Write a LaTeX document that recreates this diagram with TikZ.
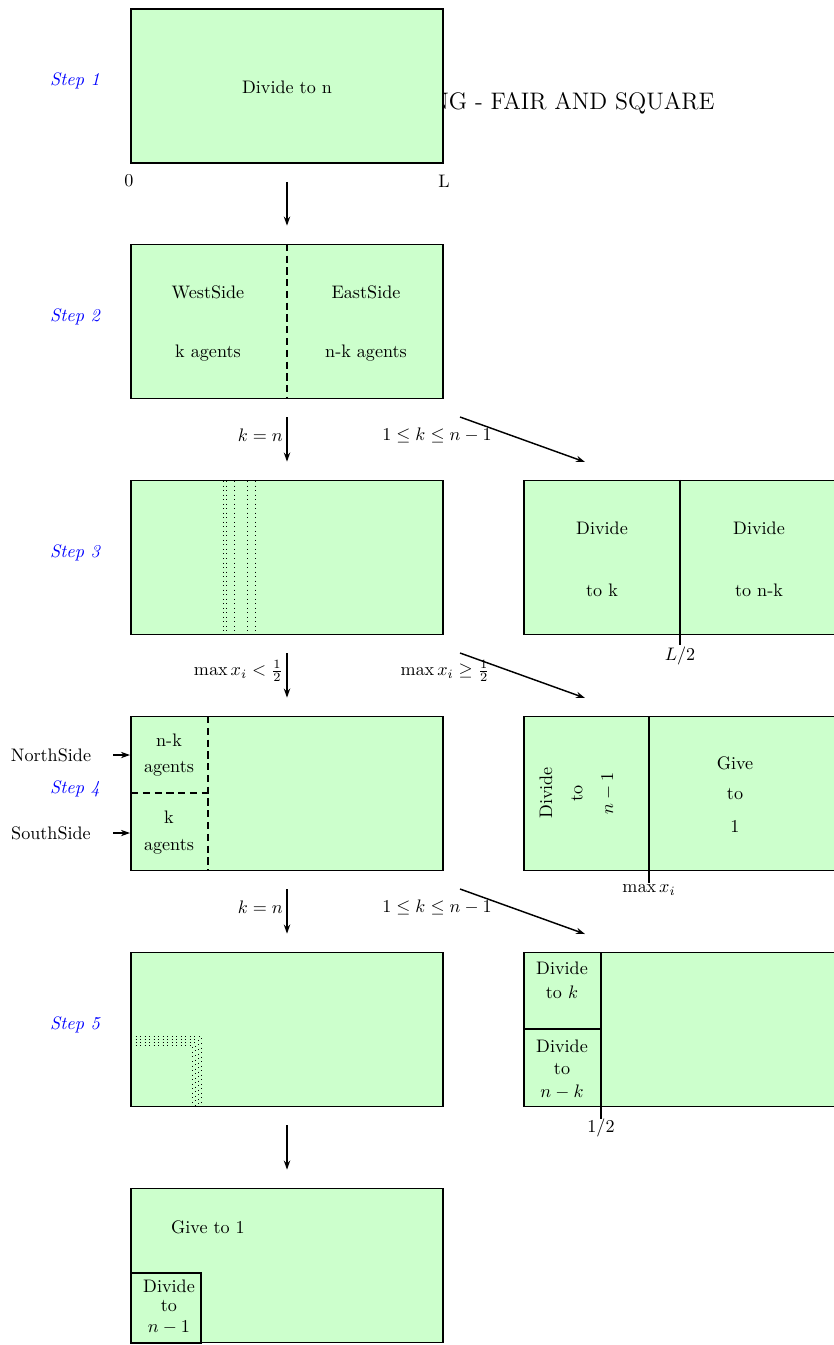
\documentclass[tikz,border=0pt]{standalone}
\usepackage{fix-cm}
\usetikzlibrary{arrows.meta}
\definecolor{cakegreen}{RGB}{204,255,204}
\begin{document}
\begin{tikzpicture}[x=0.552pt,y=-0.552pt,
  box/.style={draw, thick, fill=cakegreen, minimum width=172.2pt, minimum height=85pt, inner sep=0pt},
  steplabel/.style={text=blue, font=\itshape},
  txt/.style={inner sep=0pt},
  arr/.style={-{Stealth[length=5pt,width=3.5pt]}, thick},
  cut/.style={thick},
  dcut/.style={thick, dashed, dash pattern=on 4pt off 2.5pt},
  dots/.style={dotted, line width=0.5pt}]
\useasboundingbox (0,0) rectangle (834,1345);
% title (partly covered)
\node[txt, font=\fontsize{13.2}{16}\selectfont, anchor=west] (title) at (431,103) {NG - FAIR AND SQUARE};
% main boxes
\node[box] (s1) at (287,86) {};
\node[box] (s2) at (287,321.5) {};
\node[box] (s3) at (287,557.5) {};
\node[box] (s4) at (287,793.5) {};
\node[box] (s5) at (287,1029.5) {};
\node[box] (s6) at (287,1265.5) {};
\node[box] (r3) at (680,557.5) {};
\node[box] (r4) at (680,793.5) {};
\node[box] (r5) at (680,1029.5) {};
% step labels
\node[steplabel] (l1) at (75,81) {Step 1};
\node[steplabel] (l2) at (75,317) {Step 2};
\node[steplabel] (l3) at (75,553) {Step 3};
\node[steplabel] (l4) at (75,789) {Step 4};
\node[steplabel] (l5) at (75,1025) {Step 5};
% step 1
\node (t1) at (287,87) {Divide to n};
\node (z0) at (129,181) {0};
\node (zL) at (444,181) {L};
% step 2
\draw[dcut] (s2.north) -- (s2.south);
\node (t2a) at (208,292) {WestSide};
\node (t2b) at (366,292) {EastSide};
\node (t2c) at (208,353) {k agents};
\node (t2d) at (366,353) {n-k agents};
% step 3 left: dotted lines
\foreach \xx in {223.5,226,234.5,247.5,255} \draw[dots] (\xx,481) -- (\xx,634);
% step 3 right
\coordinate (r3tick) at (680,645);
\draw[cut] (r3.north) -- (r3tick);
\node (t3a) at (602,528) {Divide};
\node (t3b) at (602,590) {to k};
\node (t3c) at (759,528) {Divide};
\node (t3d) at (759,590) {to n-k};
\node (t3e) at (680,656) {$L/2$};
% step 4 left
\draw[dcut] (208,716) -- (208,871);
\draw[dcut] (131,793) -- (208,793);
\node (t4a) at (169,740) {n-k};
\node (t4b) at (169,769) {agents};
\node (t4c) at (169,817) {k};
\node (t4d) at (169,847) {agents};
\node (north) at (51,755) {NorthSide};
\node (south) at (51,833) {SouthSide};
\coordinate (nA) at (113,755);
\coordinate (sA) at (113,833);
\coordinate (nB) at (130,755);
\coordinate (sB) at (130,833);
\draw[arr] (nA) -- (nB);
\draw[arr] (sA) -- (sB);
% step 4 right
\coordinate (r4top) at (649,716);
\coordinate (r4tick) at (649,883);
\draw[cut] (r4top) -- (r4tick);
\node[rotate=90] (t4r1) at (546,793) {Divide};
\node[rotate=90] (t4r2) at (577,793) {to};
\node[rotate=90] (t4r3) at (608,793) {$n-1$};
\node (t4g) at (735,763) {Give};
\node (t4h) at (735,794) {to};
\node (t4i) at (735,826) {1};
\node (t4j) at (649,890) {$\max x_i$};
% step 5 left: dotted L
\draw[dots] (131,1036.5) -- (201.5,1036.5) -- (201.5,1107);
\draw[dots] (131,1039.5) -- (198.5,1039.5) -- (198.5,1107);
\draw[dots] (131,1042.5) -- (195.5,1042.5) -- (195.5,1107);
\draw[dots] (131,1045.5) -- (192.5,1045.5) -- (192.5,1107);
% step 5 right
\coordinate (r5top) at (601,952);
\coordinate (r5tick) at (601,1119);
\draw[cut] (r5top) -- (r5tick);
\draw[cut] (524,1029) -- (601,1029);
\node (t5a) at (562,968) {Divide};
\node (t5b) at (562,992) {to $k$};
\node (t5c) at (562,1046) {Divide};
\node (t5d) at (562,1069) {to};
\node (t5e) at (562,1092) {$n-k$};
\node (t5f) at (601,1128) {$1/2$};
% step 6
\node (t6a) at (208,1227) {Give to 1};
\draw[thick] (131,1273) rectangle (201,1343);
\node (t6b) at (169,1286) {Divide};
\node (t6c) at (169,1306) {to};
\node (t6d) at (169,1327) {$n-1$};
% vertical arrows
\draw[arr, shorten <=10pt, shorten >=10pt] (s1.south) -- (s2.north);
\draw[arr, shorten <=10pt, shorten >=10pt] (s2.south) -- (s3.north);
\draw[arr, shorten <=10pt, shorten >=10pt] (s3.south) -- (s4.north);
\draw[arr, shorten <=10pt, shorten >=10pt] (s4.south) -- (s5.north);
\draw[arr, shorten <=10pt, shorten >=10pt] (s5.south) -- (s6.north);
% diagonal arrows
\coordinate (d2a) at (460,417); \coordinate (d2b) at (585,462);
\coordinate (d3a) at (460,653); \coordinate (d3b) at (585,698);
\coordinate (d4a) at (460,889); \coordinate (d4b) at (585,934);
\draw[arr] (d2a) -- (d2b);
\draw[arr] (d3a) -- (d3b);
\draw[arr] (d4a) -- (d4b);
% arrow labels
\node[anchor=east, inner sep=1pt] (a2l) at (285,435) {$k=n$};
\node (a2r) at (437,435) {$1\le k\le n-1$};
\node[anchor=east, inner sep=1pt] (a3l) at (285,671) {$\max x_i<\frac{1}{2}$};
\node (a3r) at (445,671) {$\max x_i\ge\frac{1}{2}$};
\node[anchor=east, inner sep=1pt] (a4l) at (285,907) {$k=n$};
\node (a4r) at (437,907) {$1\le k\le n-1$};
\end{tikzpicture}
\end{document}
